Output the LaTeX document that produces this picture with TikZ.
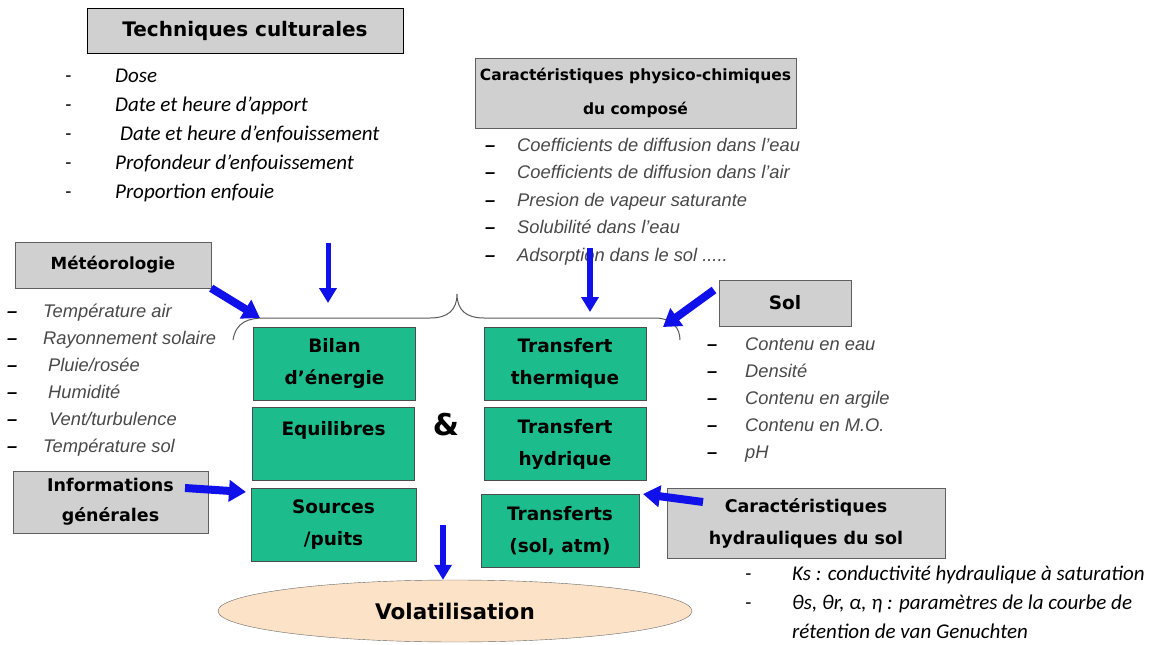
\documentclass[tikz,border=0pt]{standalone}
\usepackage{fontspec}
\setmainfont{Carlito}
\newfontfamily\arialfont{Liberation Sans}
\newfontfamily\comicfont{DejaVu Sans}
\usetikzlibrary{arrows.meta,shapes.geometric}
\definecolor{boxgray}{RGB}{208,208,208}
\definecolor{modgreen}{RGB}{28,188,140}
\definecolor{volpeach}{RGB}{252,226,198}
\definecolor{flowblue}{RGB}{16,16,235}
\definecolor{listgray}{RGB}{72,72,72}

\begin{document}
\begin{tikzpicture}[x=1pt,y=-1pt,
  titlebox/.style={draw=gray!75!black,fill=boxgray,align=center,inner sep=0pt,
                   font=\comicfont\bfseries\fontsize{17.5}{32}\selectfont},
  modbox/.style={draw=gray!60!black,fill=modgreen,align=center,inner sep=0pt,
                 minimum width=162pt,minimum height=73pt,
                 font=\comicfont\bfseries\fontsize{18.5}{32}\selectfont},
  calitem/.style={anchor=base west,inner sep=0pt,font=\itshape\fontsize{21}{24}\selectfont},
  arialitem/.style={anchor=base west,inner sep=0pt,text=listgray,
                    font=\arialfont\itshape\fontsize{18.3}{21}\selectfont},
  flow/.style={-{Triangle[length=17pt,width=21pt]},line width=8pt,flowblue},
  thinflow/.style={-{Triangle[length=15pt,width=17pt]},line width=5pt,flowblue}
]
\useasboundingbox (0,0) rectangle (1163,645);

% input boxes
\node[titlebox,draw=black,minimum width=316pt,minimum height=45pt,
      font=\comicfont\bfseries\fontsize{20}{26}\selectfont] (tech) at (245,30.5) {Techniques culturales};
\node[titlebox,minimum width=321pt,minimum height=70pt,
      font=\comicfont\bfseries\fontsize{15.5}{34}\selectfont] (phys) at (635.5,93)
  {Caractéristiques physico-chimiques\\du composé};
\node[titlebox,minimum width=196pt,minimum height=46pt,
      font=\comicfont\bfseries\fontsize{16.7}{20}\selectfont] (meteo) at (113,265) {Météorologie};
\node[titlebox,minimum width=195pt,minimum height=62pt,
      font=\comicfont\bfseries\fontsize{17.5}{30}\selectfont] (info) at (110.5,502) {Informations\\générales};
\node[titlebox,minimum width=132pt,minimum height=46pt,
      font=\comicfont\bfseries\fontsize{18.5}{20}\selectfont] (sol) at (785,303) {Sol};
\node[titlebox,minimum width=278pt,minimum height=70pt] (hydr) at (806,523)
  {Caractéristiques\\hydrauliques du sol};

% lists
\foreach \txt [count=\i] in {Dose, Date et heure d’apport,
    {\hspace*{5pt}Date et heure d’enfouissement}, Profondeur d’enfouissement, Proportion enfouie}
  \node[calitem] (tech-\i) at (65,{82+29*(\i-1)}) {\makebox[50pt][l]{-}\txt};
\foreach \txt [count=\i] in {Coefficients de diffusion dans l’eau, Coefficients de diffusion dans l’air,
    Presion de vapeur saturante, Solubilité dans l’eau, Adsorption dans le sol {.}{.}{.}{.}{.}}
  \node[arialitem] (phys-\i) at (485,{151+27.5*(\i-1)}) {\makebox[32pt][l]{\textcolor{black}{\bfseries –}}\txt};
\foreach \txt [count=\i] in {Température air, Rayonnement solaire, {\hspace*{5pt}Pluie/rosée},
    {\hspace*{5pt}Humidité}, {\hspace*{6pt}Vent/turbulence}, Température sol}
  \node[arialitem] (meteo-\i) at (7,{317+27*(\i-1)}) {\makebox[36pt][l]{\textcolor{black}{\bfseries –}}\txt};
\foreach \txt [count=\i] in {Contenu en eau, Densité, Contenu en argile, Contenu en M.O., pH}
  \node[arialitem] (sol-\i) at (707,{350+27*(\i-1)}) {\makebox[38pt][l]{\textcolor{black}{\bfseries –}}\txt};
\node[calitem] (hydr-1) at (745,580) {\makebox[47pt][l]{-}Ks : conductivité hydraulique à saturation};
\node[calitem] (hydr-2) at (745,609) {\makebox[47pt][l]{-}θs, θr, α, η : paramètres de la courbe de};
\node[calitem] (hydr-3) at (792,638) {rétention de van Genuchten};

% model boxes
\node[modbox] (bilan) at (334.5,363.5) {Bilan\\d’énergie};
\node[modbox] (equil) at (333.5,444) {Equilibres\\\mbox{}};
\node[modbox,minimum width=165pt] (sources) at (333.5,524.5) {Sources\\/puits};
\node[modbox] (therm) at (565,363.5) {Transfert\\thermique};
\node[modbox] (hydrique) at (565,444) {Transfert\\hydrique};
\node[modbox,minimum width=158pt] (transf) at (560,531) {Transferts\\(sol, atm)};
\node[font=\comicfont\bfseries\fontsize{30}{30}\selectfont] (amp) at (446,425) {\&};
\node[ellipse,draw=gray!80!black,fill=volpeach,minimum width=474pt,minimum height=62pt,
      font=\comicfont\bfseries\fontsize{21.5}{26}\selectfont] (vol) at (455,611) {Volatilisation};

% brace
\draw[gray!70!black,line width=1pt] (233,340) .. controls (236,322) and (248,318) .. (265,318)
  -- (430,318) .. controls (448,318) and (457,310) .. (457,294)
  .. controls (457,310) and (466,318) .. (484,318) -- (655,318)
  .. controls (672,318) and (680,328) .. (680,340);

% arrows
\coordinate (meteo-end) at (260,318);
\coordinate (tech-start) at (328,243);
\coordinate (tech-end) at (328,303);
\coordinate (phys-start) at (590,248);
\coordinate (phys-end) at (590,312);
\coordinate (sol-start) at (714,290);
\coordinate (sol-end) at (663,327);
\coordinate (info-start) at (185,488);
\coordinate (info-end) at (246,492);
\coordinate (hydr-start) at (703,502);
\coordinate (hydr-end) at (643,494);
\coordinate (vol-start) at (443,525);
\draw[flow] (meteo.south east) -- (meteo-end);
\draw[thinflow] (tech-start) -- (tech-end);
\draw[thinflow,line width=6pt] (phys-start) -- (phys-end);
\draw[flow] (sol-start) -- (sol-end);
\draw[flow] (info-start) -- (info-end);
\draw[flow] (hydr-start) -- (hydr-end);
\draw[thinflow,line width=6pt] (vol-start) -- (vol.north -| vol-start);
\end{tikzpicture}
\end{document}
